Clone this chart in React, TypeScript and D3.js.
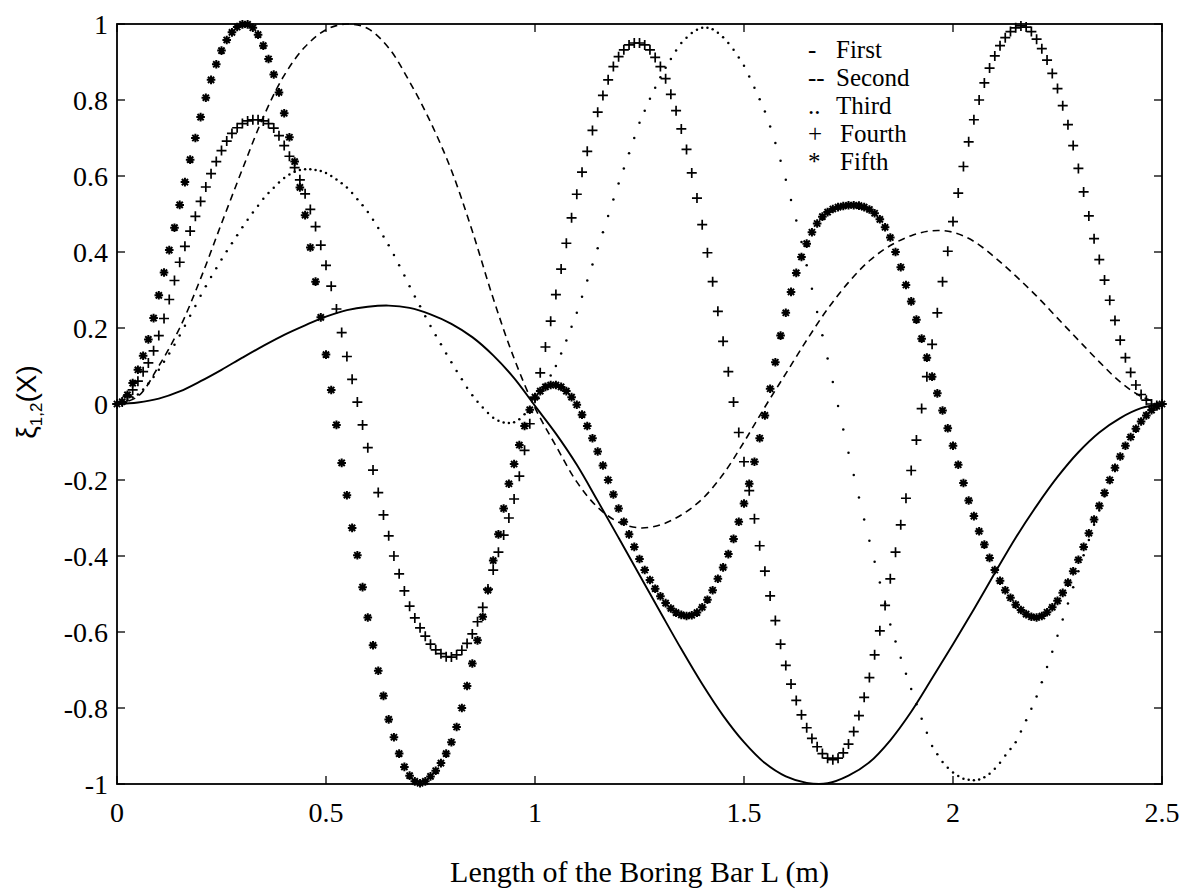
import * as d3 from 'd3';

// line series are sampled every 0.05 m, marker series every 0.0125 m
const LINE_STEP = 0.05;
const MARK_STEP = 0.0125;

const xTicks = [0, 0.5, 1, 1.5, 2, 2.5];
const yTicks = [-1, -0.8, -0.6, -0.4, -0.2, 0, 0.2, 0.4, 0.6, 0.8, 1];

// First mode (solid)
const firstMode = [
  0, 0.004, 0.014, 0.033, 0.06, 0.09, 0.122, 0.153, 0.182, 0.207,
  0.23, 0.247, 0.256, 0.259, 0.253, 0.236, 0.211, 0.176, 0.128, 0.068,
  -0.005, -0.078, -0.16, -0.255, -0.352, -0.45, -0.548, -0.645, -0.737, -0.82,
  -0.89, -0.945, -0.98, -0.997, -0.998, -0.978, -0.943, -0.885, -0.81, -0.722,
  -0.632, -0.54, -0.445, -0.352, -0.268, -0.192, -0.127, -0.075, -0.037, -0.011,
  0,
];

// Second mode (dashed)
const secondMode = [
  0, 0.02, 0.1, 0.2, 0.33, 0.475, 0.618, 0.755, 0.865, 0.94,
  0.985, 1.0, 0.988, 0.937, 0.848, 0.742, 0.615, 0.455, 0.278, 0.12,
  -0.01, -0.11, -0.205, -0.272, -0.311, -0.326, -0.318, -0.292, -0.25, -0.185,
  -0.1, -0.008, 0.08, 0.168, 0.25, 0.32, 0.377, 0.417, 0.443, 0.456,
  0.452, 0.428, 0.386, 0.337, 0.284, 0.226, 0.168, 0.111, 0.058, 0.02,
  0,
];

// Third mode (dots)
const thirdMode = [
  0, 0.004, 0.01, 0.017, 0.025, 0.038, 0.054, 0.071, 0.09, 0.111,
  0.133, 0.156, 0.18, 0.206, 0.232, 0.258, 0.285, 0.31, 0.334, 0.357,
  0.38, 0.402, 0.423, 0.444, 0.465, 0.485, 0.504, 0.522, 0.54, 0.555,
  0.569, 0.583, 0.595, 0.604, 0.611, 0.616, 0.618, 0.618, 0.616, 0.613,
  0.608, 0.6, 0.591, 0.581, 0.57, 0.555, 0.539, 0.523, 0.505, 0.485,
  0.463, 0.441, 0.418, 0.392, 0.365, 0.338, 0.31, 0.283, 0.257, 0.231,
  0.205, 0.181, 0.157, 0.133, 0.11, 0.087, 0.065, 0.043, 0.023, 0.006,
  -0.009, -0.024, -0.036, -0.044, -0.049, -0.05, -0.048, -0.04, -0.027, -0.01,
  0.01, 0.03, 0.052, 0.075, 0.1, 0.133, 0.167, 0.203, 0.24, 0.282,
  0.325, 0.367, 0.41, 0.452, 0.495, 0.538, 0.58, 0.62, 0.66, 0.7,
  0.74, 0.772, 0.803, 0.832, 0.86, 0.885, 0.908, 0.93, 0.95, 0.964,
  0.976, 0.985, 0.99, 0.99, 0.986, 0.977, 0.965, 0.95, 0.932, 0.912,
  0.89, 0.862, 0.832, 0.802, 0.77, 0.73, 0.687, 0.64, 0.59, 0.537,
  0.483, 0.426, 0.365, 0.303, 0.242, 0.181, 0.12, 0.058, -0.005, -0.067,
  -0.128, -0.187, -0.246, -0.304, -0.36, -0.415, -0.47, -0.525, -0.58, -0.625,
  -0.668, -0.71, -0.75, -0.79, -0.828, -0.865, -0.9, -0.922, -0.942, -0.957,
  -0.97, -0.979, -0.986, -0.989, -0.99, -0.988, -0.982, -0.973, -0.96, -0.944,
  -0.925, -0.908, -0.89, -0.862, -0.832, -0.802, -0.77, -0.732, -0.692, -0.652,
  -0.61, -0.567, -0.525, -0.482, -0.44, -0.398, -0.358, -0.318, -0.28, -0.243,
  -0.208, -0.173, -0.14, -0.112, -0.085, -0.061, -0.04, -0.024, -0.011, -0.003,
  0,
];

// Fourth mode (+)
const fourthMode = [
  0, 0.005, 0.02, 0.037, 0.06, 0.085, 0.108, 0.14, 0.18, 0.225,
  0.275, 0.325, 0.373, 0.415, 0.455, 0.494, 0.533, 0.571, 0.606, 0.638,
  0.667, 0.692, 0.712, 0.727, 0.738, 0.745, 0.748, 0.748, 0.745, 0.738,
  0.726, 0.706, 0.68, 0.652, 0.622, 0.59, 0.553, 0.512, 0.467, 0.418,
  0.365, 0.31, 0.25, 0.188, 0.125, 0.065, 0.005, -0.055, -0.115, -0.174,
  -0.233, -0.292, -0.347, -0.4, -0.447, -0.492, -0.532, -0.563, -0.589, -0.611,
  -0.632, -0.647, -0.657, -0.665, -0.666, -0.66, -0.648, -0.63, -0.605, -0.573,
  -0.535, -0.487, -0.437, -0.39, -0.345, -0.3, -0.25, -0.19, -0.122, -0.052,
  0.015, 0.082, 0.15, 0.218, 0.288, 0.355, 0.423, 0.49, 0.552, 0.61,
  0.665, 0.72, 0.768, 0.812, 0.853, 0.888, 0.914, 0.932, 0.945, 0.95,
  0.95, 0.945, 0.932, 0.912, 0.888, 0.856, 0.815, 0.772, 0.724, 0.67,
  0.608, 0.542, 0.472, 0.398, 0.322, 0.244, 0.165, 0.085, 0.005, -0.075,
  -0.152, -0.228, -0.302, -0.373, -0.44, -0.505, -0.57, -0.632, -0.688, -0.737,
  -0.78, -0.818, -0.852, -0.88, -0.902, -0.92, -0.932, -0.936, -0.932, -0.918,
  -0.895, -0.862, -0.82, -0.772, -0.72, -0.66, -0.597, -0.53, -0.46, -0.39,
  -0.318, -0.248, -0.175, -0.095, -0.012, 0.072, 0.157, 0.24, 0.322, 0.402,
  0.48, 0.555, 0.625, 0.69, 0.748, 0.8, 0.845, 0.884, 0.916, 0.943,
  0.964, 0.98, 0.99, 0.995, 0.992, 0.98, 0.96, 0.935, 0.905, 0.87,
  0.83, 0.785, 0.735, 0.68, 0.62, 0.558, 0.495, 0.435, 0.38, 0.326,
  0.273, 0.22, 0.168, 0.122, 0.083, 0.05, 0.025, 0.01, 0.0, -0.004,
  0,
];

// Fifth mode (*)
const fifthMode = [
  0, 0.006, 0.024, 0.055, 0.09, 0.127, 0.17, 0.226, 0.286, 0.346,
  0.405, 0.464, 0.524, 0.584, 0.643, 0.7, 0.755, 0.806, 0.853, 0.894,
  0.93, 0.958, 0.978, 0.992, 0.999, 0.999, 0.99, 0.972, 0.943, 0.908,
  0.867, 0.82, 0.765, 0.702, 0.638, 0.57, 0.497, 0.412, 0.322, 0.228,
  0.13, 0.037, -0.055, -0.155, -0.24, -0.326, -0.398, -0.482, -0.562, -0.635,
  -0.702, -0.768, -0.83, -0.877, -0.92, -0.955, -0.978, -0.993, -0.998, -0.993,
  -0.98, -0.965, -0.945, -0.92, -0.89, -0.85, -0.8, -0.742, -0.683, -0.622,
  -0.56, -0.49, -0.412, -0.343, -0.275, -0.21, -0.158, -0.108, -0.058, -0.015,
  0.018, 0.034, 0.045, 0.05, 0.05, 0.045, 0.034, 0.018, -0.002, -0.028,
  -0.058, -0.09, -0.125, -0.162, -0.2, -0.238, -0.275, -0.31, -0.343, -0.376,
  -0.408, -0.437, -0.463, -0.486, -0.506, -0.524, -0.538, -0.549, -0.555, -0.558,
  -0.556, -0.549, -0.535, -0.515, -0.49, -0.46, -0.43, -0.395, -0.355, -0.31,
  -0.262, -0.21, -0.152, -0.09, -0.03, 0.04, 0.11, 0.18, 0.24, 0.295,
  0.345, 0.387, 0.422, 0.452, 0.475, 0.493, 0.505, 0.513, 0.518, 0.521,
  0.523, 0.523, 0.522, 0.518, 0.512, 0.502, 0.486, 0.465, 0.438, 0.4,
  0.36, 0.313, 0.27, 0.222, 0.172, 0.122, 0.072, 0.028, -0.017, -0.064,
  -0.11, -0.16, -0.208, -0.254, -0.295, -0.335, -0.37, -0.405, -0.437, -0.465,
  -0.49, -0.51, -0.528, -0.542, -0.553, -0.56, -0.562, -0.558, -0.548, -0.535,
  -0.518, -0.497, -0.47, -0.44, -0.41, -0.376, -0.34, -0.304, -0.268, -0.234,
  -0.2, -0.168, -0.138, -0.11, -0.087, -0.065, -0.046, -0.03, -0.016, -0.006,
  0,
];

const legendMarks = ['-', '--', '..', '+', '*'];
const legendNames = ['First', 'Second', 'Third', 'Fourth', 'Fifth'];

const W = 1185;
const H = 892;
const plot = { left: 117, right: 1162, top: 24, bottom: 784 };
const legendBaselines = [58, 86, 114, 142, 170];
const serif = '"Liberation Serif", "Times New Roman", serif';
const TICK = 8;

export default function App() {
  const x = d3.scaleLinear().domain([0, 2.5]).range([plot.left, plot.right]);
  const y = d3.scaleLinear().domain([-1, 1]).range([plot.bottom, plot.top]);

  const modeLine = d3
    .line<number>()
    .x((_, i) => x(i * LINE_STEP))
    .y((d) => y(d))
    .curve(d3.curveCatmullRom.alpha(0.5));

  return (
    <svg
      width={W}
      height={H}
      style={{ position: 'absolute', left: 0, top: 0, background: '#fff' }}
    >
      <rect x={0} y={0} width={W} height={H} fill="#fff" />

      {/* curves */}
      <path d={modeLine(firstMode) ?? ''} fill="none" stroke="#000" strokeWidth={1.9} />
      <path
        d={modeLine(secondMode) ?? ''}
        fill="none"
        stroke="#000"
        strokeWidth={1.6}
        strokeDasharray="7 5"
      />
      <g fill="#000">
        {thirdMode.map((v, i) => (
          <circle key={i} cx={x(i * MARK_STEP)} cy={y(v)} r={1.25} />
        ))}
      </g>
      <g stroke="#000" strokeWidth={1.7} fill="none">
        {fourthMode.map((v, i) => {
          const cx = x(i * MARK_STEP);
          const cy = y(v);
          return <path key={i} d={`M${cx - 5},${cy}h10M${cx},${cy - 5}v10`} />;
        })}
      </g>
      <g stroke="#000" strokeWidth={2} fill="none">
        {fifthMode.map((v, i) => {
          const cx = x(i * MARK_STEP);
          const cy = y(v);
          return (
            <path
              key={i}
              d={`M${cx - 4.3},${cy}h8.6M${cx},${cy - 4.3}v8.6M${cx - 3.1},${cy - 3.1}l6.2,6.2M${cx - 3.1},${cy + 3.1}l6.2,-6.2`}
            />
          );
        })}
      </g>

      {/* frame and inward ticks */}
      <rect
        x={plot.left}
        y={plot.top}
        width={plot.right - plot.left}
        height={plot.bottom - plot.top}
        fill="none"
        stroke="#000"
        strokeWidth={1.8}
      />
      <g stroke="#000" strokeWidth={1.3}>
        {xTicks.map((t) => (
          <g key={t}>
            <line x1={x(t)} x2={x(t)} y1={plot.bottom} y2={plot.bottom - TICK} />
            <line x1={x(t)} x2={x(t)} y1={plot.top} y2={plot.top + TICK} />
          </g>
        ))}
        {yTicks.map((t) => (
          <g key={t}>
            <line x1={plot.left} x2={plot.left + TICK} y1={y(t)} y2={y(t)} />
            <line x1={plot.right} x2={plot.right - TICK} y1={y(t)} y2={y(t)} />
          </g>
        ))}
      </g>

      {/* tick labels */}
      <g fontFamily={serif} fontSize={28} fill="#000">
        {xTicks.map((t) => (
          <text key={t} x={x(t)} y={822} textAnchor="middle">
            {String(t)}
          </text>
        ))}
        {yTicks.map((t) => (
          <text key={t} x={108} y={y(t)} dy="0.35em" textAnchor="end">
            {String(t)}
          </text>
        ))}
      </g>

      {/* axis titles */}
      <text x={(plot.left + plot.right) / 2} y={882} textAnchor="middle" fontFamily={serif} fontSize={30}>
        Length of the Boring Bar L (m)
      </text>
      <text
        transform="translate(36,402) rotate(-90)"
        textAnchor="middle"
        fontFamily='"Liberation Sans", Arial, sans-serif'
        fontSize={28}
      >
        ξ<tspan fontSize={17} dy={6}>1,2</tspan>
        <tspan dy={-6}>(X)</tspan>
      </text>

      {/* legend */}
      <g fontFamily={serif} fontSize={25} fill="#000">
        {legendNames.map((name, i) => (
          <g key={name}>
            <text x={808} y={legendBaselines[i]}>
              {legendMarks[i]}
            </text>
            <text x={i < 3 ? 836 : 840} y={legendBaselines[i]}>
              {name}
            </text>
          </g>
        ))}
      </g>
    </svg>
  );
}
